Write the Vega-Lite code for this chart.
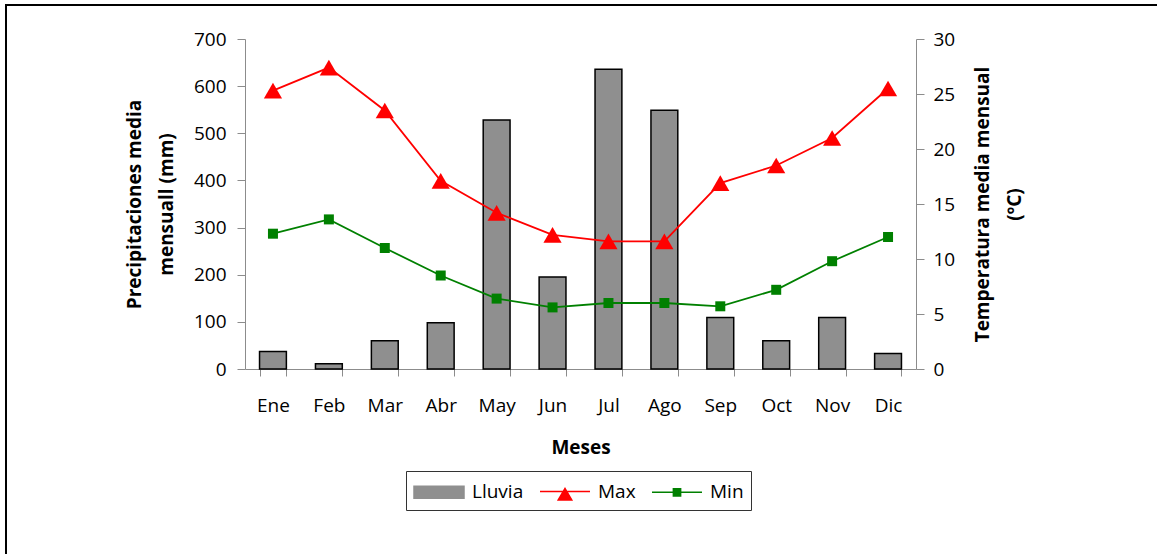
{
  "$schema": "https://vega.github.io/schema/vega-lite/v6.json",
  "width": 1160,
  "height": 560,
  "autosize": {"type": "none"},
  "padding": {"left": 6, "top": 5, "right": 0, "bottom": 0},
  "background": "white",
  "config": {
    "view": {"stroke": "#000000", "strokeWidth": 2, "fill": "white"},
    "font": "Open Sans",
    "axis": {
      "labelFont": "Open Sans",
      "labelFontSize": 19,
      "labelColor": "#000000",
      "titleFont": "Open Sans",
      "titleFontSize": 19,
      "titleFontWeight": "bold",
      "titleColor": "#000000",
      "titleLineHeight": 32,
      "domainColor": "#8c8c8c",
      "tickColor": "#8c8c8c",
      "domainWidth": 1,
      "tickWidth": 1,
      "grid": false,
      "labelOverlap": false,
      "labelFlush": false
    }
  },
  "data": {
    "values": [
      {"Mes": "Ene", "Lluvia": 37, "Max": 25.3, "Min": 12.3},
      {"Mes": "Feb", "Lluvia": 11, "Max": 27.4, "Min": 13.6},
      {"Mes": "Mar", "Lluvia": 60, "Max": 23.5, "Min": 11.0},
      {"Mes": "Abr", "Lluvia": 98, "Max": 17.1, "Min": 8.5},
      {"Mes": "May", "Lluvia": 528, "Max": 14.2, "Min": 6.4},
      {"Mes": "Jun", "Lluvia": 195, "Max": 12.2, "Min": 5.6},
      {"Mes": "Jul", "Lluvia": 636, "Max": 11.6, "Min": 6.0},
      {"Mes": "Ago", "Lluvia": 549, "Max": 11.6, "Min": 6.0},
      {"Mes": "Sep", "Lluvia": 109, "Max": 16.9, "Min": 5.7},
      {"Mes": "Oct", "Lluvia": 60, "Max": 18.5, "Min": 7.2},
      {"Mes": "Nov", "Lluvia": 109, "Max": 21.0, "Min": 9.8},
      {"Mes": "Dic", "Lluvia": 33, "Max": 25.5, "Min": 12.0}
    ]
  },
  "encoding": {
    "x": {
      "field": "Mes",
      "type": "nominal",
      "sort": null,
      "scale": {
        "domain": ["Ene", "Feb", "Mar", "Abr", "May", "Jun", "Jul", "Ago", "Sep", "Oct", "Nov", "Dic"],
        "range": [239, 910],
        "paddingInner": 0.52,
        "paddingOuter": 0.26
      },
      "axis": {
        "title": "Meses",
        "orient": "bottom",
        "offset": -196,
        "labelAngle": 0,
        "tickBand": "extent",
        "tickSize": 7,
        "labelPadding": 20,
        "titlePadding": 23
      }
    },
    "color": {
      "field": "Serie",
      "type": "nominal",
      "scale": {"domain": ["Lluvia", "Max", "Min"], "range": ["#8f8f8f", "#ff0000", "#008000"]},
      "legend": {
        "orient": "none",
        "legendX": 400,
        "legendY": 466,
        "direction": "horizontal",
        "columns": 3,
        "title": null,
        "labelFont": "Open Sans",
        "labelFontSize": 19,
        "labelColor": "#000000",
        "symbolSize": 625,
        "labelOffset": 32,
        "columnPadding": 13,
        "padding": 7,
        "strokeColor": "#333333",
        "fillColor": "white",
        "symbolStrokeWidth": 1.5,
        "encode": {
          "symbols": {
            "update": {
              "shape": [
                {"test": "datum.value === 'Lluvia'", "value": "M-1,-0.48L3,-0.48L3,0.48L-1,0.48Z"},
                {"test": "datum.value === 'Max'", "value": "M-1,0L3,0M0.46,0.67L1,-0.24L1.54,0.67Z"},
                {"value": "M-1,0L3,0M0.71,-0.29L1.29,-0.29L1.29,0.29L0.71,0.29Z"}
              ],
              "fill": [
                {"test": "datum.value === 'Lluvia'", "value": "#8f8f8f"},
                {"test": "datum.value === 'Max'", "value": "#ff0000"},
                {"value": "#008000"}
              ],
              "stroke": [
                {"test": "datum.value === 'Lluvia'", "value": "#000000"},
                {"test": "datum.value === 'Max'", "value": "#ff0000"},
                {"value": "#008000"}
              ],
              "strokeWidth": {"value": 1.5},
              "opacity": {"value": 1},
              "fillOpacity": {"value": 1},
              "strokeOpacity": {"value": 1}
            }
          }
        }
      }
    }
  },
  "layer": [
    {
      "transform": [{"fold": ["Lluvia"], "as": ["Serie", "Valor"]}],
      "mark": {"type": "bar", "stroke": "#000000", "strokeWidth": 1.5},
      "encoding": {
        "y": {
          "field": "Valor",
          "type": "quantitative",
          "scale": {"domain": [0, 700], "range": [364, 34], "nice": false},
          "axis": {
            "orient": "left",
            "offset": -239,
            "values": [0, 100, 200, 300, 400, 500, 600, 700],
            "tickSize": 8,
            "labelPadding": 11,
            "title": ["Precipitaciones media", "mensuall (mm)"],
            "titlePadding": 17
          }
        }
      }
    },
    {
      "transform": [{"fold": ["Max", "Min"], "as": ["Serie", "Temp"]}],
      "encoding": {
        "y": {
          "field": "Temp",
          "type": "quantitative",
          "scale": {"domain": [0, 30], "range": [364, 34], "nice": false},
          "axis": {
            "orient": "right",
            "offset": -250,
            "values": [0, 5, 10, 15, 20, 25, 30],
            "tickSize": 8,
            "labelPadding": 9,
            "title": ["Temperatura media mensual", "(ºC)"],
            "titleAngle": -90,
            "titlePadding": 6
          }
        }
      },
      "layer": [
        {"mark": {"type": "line", "strokeWidth": 1.8}},
        {
          "mark": {"type": "point", "filled": true, "opacity": 1},
          "encoding": {
            "shape": {
              "field": "Serie",
              "type": "nominal",
              "scale": {"domain": ["Max", "Min"], "range": ["triangle-up", "square"]},
              "legend": null
            },
            "size": {
              "field": "Serie",
              "type": "nominal",
              "scale": {"domain": ["Max", "Min"], "range": [330, 100]},
              "legend": null
            }
          }
        }
      ]
    }
  ],
  "resolve": {"scale": {"y": "independent"}, "axis": {"y": "independent"}}
}
